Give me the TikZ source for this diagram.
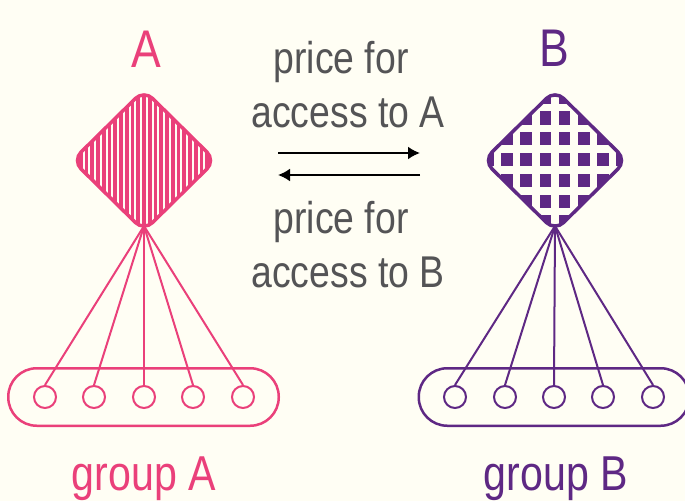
\documentclass[tikz,border=0pt]{standalone}
\usepackage{fontspec}
\setmainfont{Liberation Sans}[FakeStretch=0.84]
\usetikzlibrary{shapes.geometric,arrows.meta}

\definecolor{sideA}{HTML}{EA407A}
\definecolor{sideB}{HTML}{5E2884}
\definecolor{talk}{HTML}{545456}
\definecolor{paper}{HTML}{FFFEF4}

\tikzset{
  kite/.style={diamond, draw, minimum width=143pt, minimum height=141pt,
    inner sep=0pt, outer sep=0pt, line width=3.5pt, rounded corners=12pt},
  member/.style={circle, draw, line width=2pt, minimum size=22pt, inner sep=0pt},
  crowd/.style={rectangle, draw, line width=2.5pt, minimum height=57.5pt,
    minimum width=270.5pt, rounded corners=28.5pt},
  tie/.style={line width=2pt},
  deal/.style={line width=2pt, -{Latex[length=12pt,width=13pt]}},
  bigtext/.style={anchor=base, font=\fontsize{53}{60}\selectfont},
  midtext/.style={anchor=base, text=talk, font=\fontsize{44.5}{54}\selectfont},
  grouptext/.style={anchor=base, font=\fontsize{49}{56}\selectfont}
}

\begin{document}
\begin{tikzpicture}[x=1pt,y=-1pt]
\fill[paper] (0,0) rectangle (685,501);
\useasboundingbox (0,0) rectangle (685,501);

% platform A: striped kite
\node[kite, sideA, path picture={
  \foreach \k in {-13,...,13}
    \draw[sideA, line width=3.7pt]
      ([xshift=\k*5.75pt]path picture bounding box.north) --
      ([xshift=\k*5.75pt]path picture bounding box.south);
}] (A) at (144,160.5) {};
\node[bigtext, text=sideA] (A label) at (146,67) {A};

% platform B: checked kite
\node[kite, sideB, fill=sideB, path picture={
  \foreach \k in {-3,...,3}
    \draw[paper, line width=7.6pt]
      ([xshift=\k*19.2pt]path picture bounding box.north) --
      ([xshift=\k*19.2pt]path picture bounding box.south);
  \foreach \k in {-2.5,-1.5,...,2.5}
    \draw[paper, line width=7.6pt]
      ([yshift=\k*20.8pt+1pt]path picture bounding box.west) --
      ([yshift=\k*20.8pt+1pt]path picture bounding box.east);
}] (B) at (555,160.5) {};
\node[bigtext, text=sideB] (B label) at (554,66) {B};

\coordinate (A tip) at ([yshift=5pt]A.south);
\coordinate (B tip) at ([yshift=5pt]B.south);

% group A
\node[crowd, sideA] (group A) at (143.5,397) {};
\foreach \x [count=\i] in {45,94,144,193,243} {
  \node[member, sideA] (a\i) at (\x,397) {};
  \draw[tie, sideA] (A tip) -- (a\i.north);
}
\node[grouptext, text=sideA] (group A label) at (144,490) {group A};

% group B
\node[crowd, sideB] (group B) at (554,397) {};
\foreach \x [count=\i] in {455,505,554,603,653} {
  \node[member, sideB] (b\i) at (\x,397) {};
  \draw[tie, sideB] (B tip) -- (b\i.north);
}
\node[grouptext, text=sideB] (group B label) at (556,490) {group B};

% prices between the platforms
\node[midtext] (price A) at (341,73) {price for};
\node[midtext] (access A) at (348,127) {access to A};
\coordinate (pay A from) at (278,153);
\coordinate (pay A to) at (420,153);
\draw[deal] (pay A from) -- (pay A to);
\coordinate (pay B from) at (420,175);
\coordinate (pay B to) at (278,175);
\draw[deal] (pay B from) -- (pay B to);
\node[midtext] (price B) at (341,233) {price for};
\node[midtext] (access B) at (348,287) {access to B};
\end{tikzpicture}
\end{document}
